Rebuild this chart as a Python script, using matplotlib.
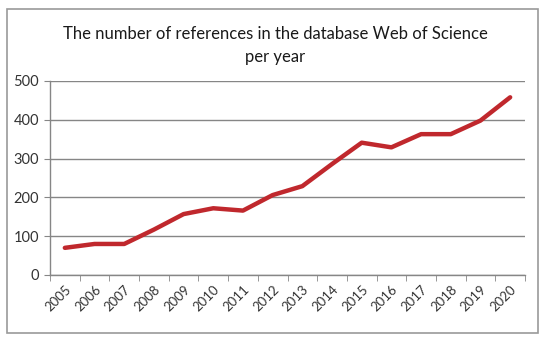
import matplotlib.pyplot as plt
from matplotlib.patches import Rectangle
from matplotlib.ticker import FixedLocator

# Data
years = ["2005", "2006", "2007", "2008", "2009", "2010", "2011", "2012",
         "2013", "2014", "2015", "2016", "2017", "2018", "2019", "2020"]
references = [70, 80, 80, 117, 157, 172, 166, 206,
              229, 286, 341, 329, 363, 363, 398, 458]
y_ticks = [0, 100, 200, 300, 400, 500]

plt.rcParams['font.family'] = ['Lato', 'DejaVu Sans']

fig = plt.figure(figsize=(5.5, 3.37), dpi=100)
fig.patch.set_facecolor("white")

# Outer chart frame
fig.patches.append(Rectangle((7 / 550, 1 - 333 / 337), 531 / 550, 324 / 337,
                             transform=fig.transFigure, fill=False,
                             edgecolor="#9a9a9a", linewidth=1.2))

ax = fig.add_axes([50 / 550, 1 - 275 / 337, 475 / 550, 194 / 337])
x = list(range(len(years)))
ax.plot(x, references, color="#c0282d", linewidth=3.2, solid_capstyle="round",
        solid_joinstyle="round", zorder=3)

ax.set_xlim(-0.5, len(years) - 0.5)
ax.set_ylim(0, 500)
ax.set_yticks(y_ticks)
ax.yaxis.grid(True, color="#868686", linewidth=1)
ax.set_axisbelow(True)

ax.set_xticks(x)
ax.set_xticklabels(years, rotation=45, ha="right", rotation_mode="anchor",
                   fontsize=9.5, color="#333333")
ax.xaxis.set_minor_locator(FixedLocator([i - 0.5 for i in range(len(years) + 1)]))
ax.tick_params(axis="x", which="major", length=0, pad=6)
ax.tick_params(axis="x", which="minor", length=4, color="#868686", direction="out")
ax.tick_params(axis="y", length=4, color="#868686", labelsize=10.5,
               labelcolor="#333333", pad=4)

for side in ["top", "right"]:
    ax.spines[side].set_visible(False)
for side in ["left", "bottom"]:
    ax.spines[side].set_color("#868686")
    ax.spines[side].set_linewidth(1)

fig.text(0.5, 1 - 34 / 337, "The number of references in the database Web of Science",
         ha="center", va="center", fontsize=12, color="#1a1a1a")
fig.text(0.5, 1 - 57 / 337, "per year", ha="center", va="center",
         fontsize=12, color="#1a1a1a")

fig.savefig("out.png", dpi=100)
